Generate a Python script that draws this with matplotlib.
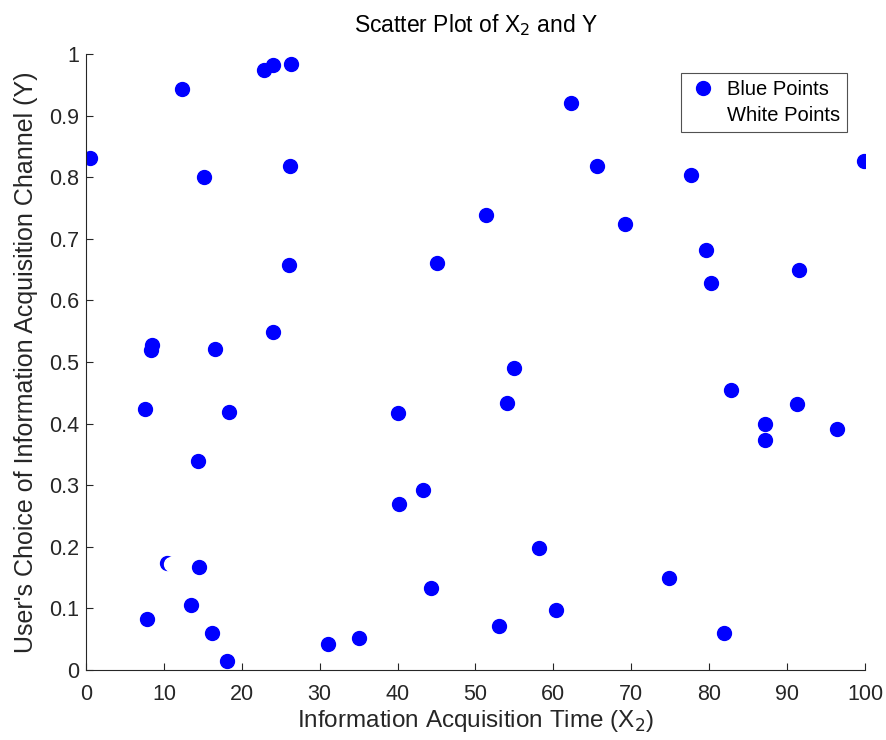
import matplotlib
matplotlib.use("Agg")
import matplotlib.pyplot as plt

plt.rcParams['font.family'] = ['Liberation Sans', 'DejaVu Sans']

blue_x = [0.5, 12.3, 22.9, 24.0, 26.3, 15.2, 26.2, 26.0, 24.0, 8.5, 8.4, 16.5, 7.6, 18.4,
          14.4, 10.4, 14.5, 13.5, 7.8, 16.2, 18.1, 31.1, 35.1, 40.0, 40.2, 43.2, 44.3, 45.1,
          51.4, 54.0, 55.0, 53.0, 58.1, 60.3, 62.3, 65.6, 69.2, 74.9, 77.6, 79.6, 80.2, 81.9,
          82.8, 87.1, 87.1, 91.3, 91.5, 96.4, 99.9]
blue_y = [0.831, 0.943, 0.974, 0.982, 0.984, 0.800, 0.818, 0.657, 0.549, 0.528, 0.519, 0.521,
          0.424, 0.419, 0.339, 0.174, 0.167, 0.106, 0.083, 0.060, 0.015, 0.042, 0.052, 0.417,
          0.269, 0.292, 0.133, 0.661, 0.739, 0.433, 0.490, 0.071, 0.198, 0.097, 0.920, 0.818,
          0.724, 0.149, 0.804, 0.682, 0.628, 0.060, 0.455, 0.399, 0.373, 0.432, 0.649, 0.391,
          0.826]
white_x = [10.9]
white_y = [0.172]

xticks = list(range(0, 101, 10))
yticks = [0, 0.1, 0.2, 0.3, 0.4, 0.5, 0.6, 0.7, 0.8, 0.9, 1]
yticklabels = ['0', '0.1', '0.2', '0.3', '0.4', '0.5', '0.6', '0.7', '0.8', '0.9', '1']

fig = plt.figure(figsize=(8.87, 7.40), dpi=100)
ax = fig.add_axes([86/887, 70/740, (865-86)/887, (670-54)/740])

ax.plot(blue_x, blue_y, 'o', color='blue', markersize=10, linestyle='none', label='Blue Points')
ax.plot(white_x, white_y, 'o', color='white', markersize=10, linestyle='none', label='White Points')

ax.set_xlim(0, 100)
ax.set_ylim(0, 1)
ax.set_xticks(xticks)
ax.set_yticks(yticks)
ax.set_yticklabels(yticklabels)
ax.set_xticklabels([str(t) for t in xticks])

axcol = '#262626'
for s in ['top', 'right']:
    ax.spines[s].set_visible(False)
for s in ['left', 'bottom']:
    ax.spines[s].set_color(axcol)
    ax.spines[s].set_linewidth(0.8)
ax.tick_params(direction='in', length=5, width=0.8, colors=axcol, labelsize=15.5)
ax.tick_params(axis='x', pad=10)
ax.tick_params(axis='y', pad=5)

ax.set_title('Scatter Plot of X$_2$ and Y', fontsize=16.5, color='black', pad=16)
ax.set_xlabel('Information Acquisition Time (X$_2$)', fontsize=17.5, color=axcol, labelpad=2.5)
ax.set_ylabel("User's Choice of Information Acquisition Channel (Y)", fontsize=18, color=axcol, labelpad=8)

leg = ax.legend(loc='upper right', bbox_to_anchor=(1 - (865-847)/779, 1 - (73-54)/616),
                fontsize=14.5, frameon=True, fancybox=False, handletextpad=0.45,
                borderpad=0.35, handlelength=1.5, labelspacing=0.35, borderaxespad=0)
leg.get_frame().set_edgecolor(axcol)
leg.get_frame().set_linewidth(0.8)

fig.savefig('out.png', dpi=100)
